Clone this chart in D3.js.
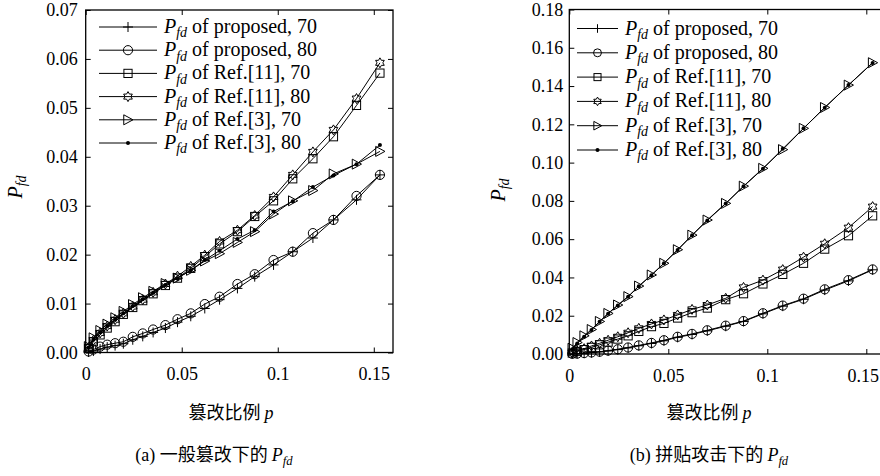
<!DOCTYPE html>
<html><head><meta charset="utf-8">
<script src="https://cdn.jsdelivr.net/npm/d3@7"></script>
<style>
html,body{margin:0;padding:0;background:#fff;}
</style></head>
<body><svg id="chart" width="880" height="476"></svg>
<script>
// shared x values (tampering ratio p)
const xs = [0.0015,0.004,0.0075,0.0112,0.0153,0.0196,0.0245,0.0297,0.0351,0.0415,0.0478,0.0547,0.062,0.0697,0.079,0.088,0.0978,0.1078,0.1183,0.129,0.141,0.1532];

// panel (a)
const a_prop70  = [0.0001,0.0003,0.0007,0.0011,0.0014,0.0018,0.0026,0.0033,0.0041,0.005,0.0062,0.0074,0.009,0.0108,0.0131,0.0155,0.0179,0.0206,0.0234,0.0271,0.0312,0.0363];
const a_prop80  = [0.0002,0.0006,0.0012,0.0016,0.0019,0.0022,0.0032,0.0039,0.0047,0.0056,0.0068,0.008,0.0099,0.0114,0.014,0.016,0.0189,0.0206,0.0244,0.0271,0.032,0.0363];
const a_ref11_70= [0.0008,0.0022,0.0036,0.005,0.0063,0.0078,0.0092,0.0106,0.012,0.0137,0.0152,0.0172,0.0196,0.0222,0.0247,0.0278,0.031,0.0355,0.0396,0.0441,0.0505,0.0571];
const a_ref11_80= [0.001,0.0025,0.004,0.0054,0.0067,0.008,0.0094,0.0108,0.0123,0.014,0.0156,0.0176,0.0199,0.0227,0.025,0.028,0.0318,0.0363,0.041,0.0455,0.0519,0.0592];
const a_ref3_70 = [0.0012,0.003,0.0045,0.0058,0.0071,0.0084,0.0098,0.0112,0.0125,0.0141,0.0152,0.0168,0.0187,0.0202,0.0225,0.0247,0.0283,0.031,0.0331,0.0365,0.0385,0.0411];
const a_ref3_80 = [0.001,0.0026,0.0041,0.0054,0.0067,0.008,0.0095,0.0109,0.0122,0.0138,0.0152,0.0168,0.0189,0.0208,0.0232,0.025,0.0288,0.0309,0.0338,0.0362,0.0385,0.0424];

// panel (b)
const b_prop70  = [0.0001,0.0002,0.0004,0.0007,0.0011,0.0016,0.0023,0.0032,0.0043,0.0055,0.0069,0.0087,0.0102,0.0121,0.0145,0.017,0.021,0.025,0.0286,0.0334,0.0382,0.044];
const b_prop80  = [0.0001,0.0002,0.0005,0.0008,0.0012,0.0018,0.0025,0.0034,0.0045,0.0058,0.0072,0.009,0.0105,0.0124,0.0148,0.0172,0.0213,0.0253,0.0289,0.0338,0.0386,0.0442];
const b_ref11_70= [0.0005,0.0013,0.0023,0.0035,0.0048,0.0062,0.0078,0.0095,0.0118,0.0143,0.016,0.0188,0.0216,0.024,0.0284,0.0315,0.0366,0.0416,0.0474,0.0548,0.0618,0.0722];
const b_ref11_80= [0.0006,0.0016,0.0028,0.0042,0.0056,0.0072,0.009,0.0111,0.0134,0.0157,0.0178,0.0204,0.0233,0.0256,0.0291,0.0348,0.0386,0.0441,0.0506,0.0576,0.066,0.077];
const b_ref3_70 = [0.003,0.006,0.0095,0.0128,0.017,0.0212,0.0256,0.03,0.0355,0.0413,0.0474,0.0545,0.0621,0.07,0.0787,0.0877,0.097,0.1068,0.1179,0.1288,0.1405,0.1522];
const b_ref3_80 = [0.0025,0.0055,0.009,0.0125,0.0168,0.021,0.0254,0.0299,0.0354,0.0412,0.0474,0.0543,0.062,0.0698,0.0786,0.0876,0.0968,0.1072,0.1179,0.1287,0.1405,0.1521];

const seriesNames = ["of proposed, 70","of proposed, 80","of Ref.[11], 70","of Ref.[11], 80","of Ref.[3], 70","of Ref.[3], 80"];
const markers = ["plus","circle","square","hexagram","triangle","dot"];
const xTicks = [0, 0.05, 0.1, 0.15];
const xTickLabels = ["0","0.05","0.1","0.15"];
const aYTicks = [0,0.01,0.02,0.03,0.04,0.05,0.06,0.07];
const bYTicks = [0,0.02,0.04,0.06,0.08,0.10,0.12,0.14,0.16,0.18];
const xLabel = "篡改比例 ";
const captions = ["(a) 一般篡改下的 ", "(b) 拼贴攻击下的 "];

const SERIF = "'Liberation Serif'";
const CJK = "'Noto Sans CJK SC'";

const svg = d3.select("#chart");
svg.append("rect").attr("width",880).attr("height",476).attr("fill","#fff");

function drawMarker(g, type, x, y, s) {
  const r = s;
  if (type === "plus") {
    g.append("path").attr("d", `M${x-r},${y}H${x+r}M${x},${y-r}V${y+r}`).attr("stroke","#000").attr("fill","none");
  } else if (type === "circle") {
    g.append("circle").attr("cx",x).attr("cy",y).attr("r",r*0.92).attr("stroke","#000").attr("fill","none");
  } else if (type === "square") {
    const h = r*0.82;
    g.append("rect").attr("x",x-h).attr("y",y-h).attr("width",2*h).attr("height",2*h).attr("stroke","#000").attr("fill","none");
  } else if (type === "hexagram") {
    const pts = [];
    for (let i = 0; i < 12; i++) {
      const ang = -Math.PI/2 + i*Math.PI/6;
      const rr = (i % 2 === 0) ? r : r*0.58;
      pts.push([x + rr*Math.cos(ang), y + rr*Math.sin(ang)]);
    }
    g.append("path").attr("d", d3.line()(pts) + "Z").attr("stroke","#000").attr("fill","none");
  } else if (type === "triangle") {
    const pts = [[x + r, y], [x - r*0.85, y - r], [x - r*0.85, y + r]];
    g.append("path").attr("d", d3.line()(pts) + "Z").attr("stroke","#000").attr("fill","none");
  } else if (type === "dot") {
    g.append("circle").attr("cx",x).attr("cy",y).attr("r",2).attr("fill","#000");
  }
}

function pfd(textSel, fs) {
  textSel.append("tspan").style("font-family", SERIF).style("font-style","italic").text("P");
  textSel.append("tspan").style("font-family", SERIF).style("font-style","italic").style("font-size", (fs*0.7)+"px").attr("dy", fs*0.22).text("fd");
}

function panel(cfg) {
  const x = d3.scaleLinear().domain([0, 0.16]).range([cfg.left, cfg.right]);
  const y = d3.scaleLinear().domain([0, cfg.ymax]).range([cfg.bottom, cfg.top]);
  const g = svg.append("g");

  // frame
  g.append("rect").attr("x", cfg.left).attr("y", cfg.top)
    .attr("width", cfg.right - cfg.left).attr("height", cfg.bottom - cfg.top)
    .attr("fill","none").attr("stroke","#000").attr("stroke-width",1.3);

  const fmtY = d3.format(".2f");
  const axL = g.append("g").attr("transform",`translate(${cfg.left},0)`)
    .call(d3.axisLeft(y).tickValues(cfg.yTicks).tickFormat(fmtY).tickSizeInner(-5).tickSizeOuter(0).tickPadding(cfg.yPad));
  const axB = g.append("g").attr("transform",`translate(0,${cfg.bottom})`)
    .call(d3.axisBottom(x).tickValues(xTicks).tickFormat((d,i)=>xTickLabels[i]).tickSizeInner(-5).tickSizeOuter(0).tickPadding(15));
  const axR = g.append("g").attr("transform",`translate(${cfg.right},0)`)
    .call(d3.axisRight(y).tickValues(cfg.yTicks).tickFormat("").tickSizeInner(-5).tickSizeOuter(0));
  const axT = g.append("g").attr("transform",`translate(0,${cfg.top})`)
    .call(d3.axisTop(x).tickValues(xTicks).tickFormat("").tickSizeInner(-5).tickSizeOuter(0));
  [axL, axB, axR, axT].forEach(a => {
    a.attr("font-family", null);
    a.select(".domain").remove();
    a.selectAll("text").style("font-family", SERIF).style("font-size","18px").attr("fill","#000");
  });
  // keep last x tick label inside the picture
  axB.selectAll(".tick text").each(function() {
    const bb = this.getBBox();
    const m = this.parentNode.transform.baseVal.consolidate().matrix;
    const right = m.e + bb.x + bb.width;
    if (right > 879) d3.select(this).attr("x", 879 - right);
  });

  // series
  const dataG = g.append("g");
  cfg.series.forEach((vals, si) => {
    const pts = xs.map((xv, i) => [x(xv), y(vals[i])]);
    dataG.append("path").attr("d", d3.line()(pts)).attr("fill","none").attr("stroke","#000").attr("stroke-width",1);
    pts.forEach(p => drawMarker(dataG, markers[si], p[0], p[1], cfg.ms));
  });

  // legend
  const lg = g.append("g");
  seriesNames.forEach((name, i) => {
    const yy = cfg.legY + i*cfg.legStep;
    lg.append("line").attr("x1", cfg.legX1).attr("x2", cfg.legX2).attr("y1", yy).attr("y2", yy).attr("stroke","#000");
    drawMarker(lg, markers[i], (cfg.legX1+cfg.legX2)/2, yy, cfg.legMs);
    const t = lg.append("text").attr("x", cfg.legX2 + 7).attr("y", yy + 6).style("font-family", SERIF).style("font-size","20px");
    pfd(t, 20);
    t.append("tspan").attr("dy", -20*0.22).style("font-family", SERIF).text(" " + name);
  });

  // y label
  const yl = g.append("text").attr("transform", `translate(${cfg.ylabX},${cfg.ylabY}) rotate(-90)`)
    .attr("text-anchor","middle").style("font-family", SERIF).style("font-size","20px");
  pfd(yl, 20);

  // x label
  const xl = g.append("text").attr("x", cfg.xlabX).attr("y", 419).attr("text-anchor","middle").style("font-family", SERIF).style("font-size","18px");
  xl.append("tspan").style("font-family", CJK).text(xLabel);
  xl.append("tspan").style("font-family", SERIF).style("font-style","italic").text("p");

  // caption
  const cp = g.append("text").attr("x", cfg.capX).attr("y", 461).attr("text-anchor","middle").style("font-family", SERIF).style("font-size","18px");
  cp.append("tspan").style("font-family", SERIF).text(cfg.caption.slice(0,4));
  cp.append("tspan").style("font-family", CJK).text(cfg.caption.slice(4));
  pfd(cp, 18);
}

panel({left:85.7, right:393, top:10, bottom:352.5, ymax:0.07, yTicks:aYTicks, yPad:8,
  series:[a_prop70,a_prop80,a_ref11_70,a_ref11_80,a_ref3_70,a_ref3_80], ms:5,
  legX1:99, legX2:157, legY:27, legStep:23.2, legMs:5,
  ylabX:22, ylabY:187, xlabX:231, capX:214, caption:captions[0]});

panel({left:569.3, right:886.1, top:9.5, bottom:354, ymax:0.18, yTicks:bYTicks, yPad:6,
  series:[b_prop70,b_prop80,b_ref11_70,b_ref11_80,b_ref3_70,b_ref3_80], ms:5,
  legX1:577, legX2:618, legY:28.5, legStep:24.3, legMs:4.3,
  ylabX:505, ylabY:190, xlabX:709, capX:709, caption:captions[1]});
</script>
</body></html>
